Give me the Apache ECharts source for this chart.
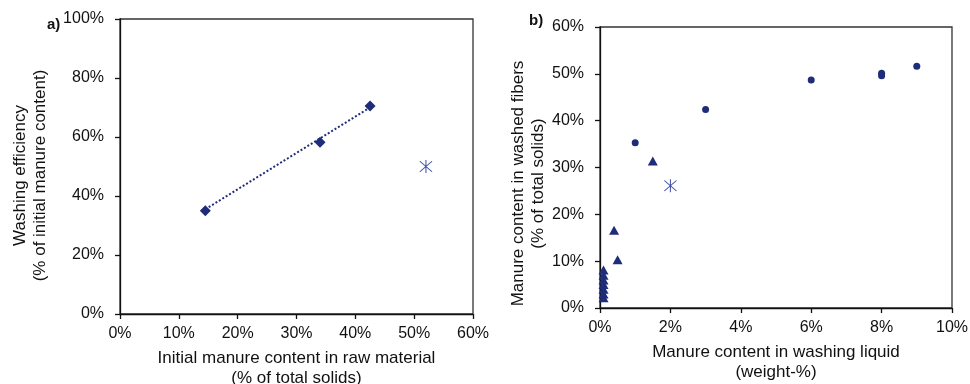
<!DOCTYPE html>
<html>
<head>
<meta charset="utf-8">
<script src="https://cdn.jsdelivr.net/npm/echarts@6/dist/echarts.min.js"></script>
<style>
  html, body { margin: 0; padding: 0; background: #fff; }
  #main { width: 970px; height: 384px; }
</style>
</head>
<body>
<div id="main"></div>
<script>
// panel a) initial manure content (x, %) vs washing efficiency (y, %)
const aDiamonds = [[14.5, 35], [34, 58.2], [42.5, 70.5]];
const aTrend = [[14.5, 35.5], [42.5, 70]];
const aStar = [[52, 50]];
const aXTicks = [0, 60, 10];
const aYTicks = [0, 100, 20];

// panel b) manure content in washing liquid (x, %) vs in washed fibers (y, %)
const bCircles = [[1, 35.3], [3, 42.4], [6, 48.7], [8, 49.6], [8, 50.1], [9, 51.6]];
const bTriangles = [[1.5, 31.4], [0.4, 16.6], [0.5, 10.3], [0.1, 8.1], [0.1, 7], [0.1, 6],
  [0.1, 5], [0.1, 4], [0.1, 3], [0.1, 2.2]];
const bStar = [[2, 26.1]];
const bXTicks = [0, 10, 2];
const bYTicks = [0, 60, 10];

const navy = '#1f2c78';
const starColor = '#3c4ea6';
const font = 'Liberation Sans, Arial, sans-serif';
const starPath = 'path://M9.3 0h1.4v20h-1.4Z M1 2.4L2.1 1.4L19 17.6L17.9 18.6Z M17.9 1.4L19 2.4L2.1 18.6L1 17.6Z';

let chartDom = document.getElementById('main');
let myChart = echarts.init(chartDom, null, { renderer: 'canvas' });

function valueAxis(ticks, gridIndex, name, gap, labelMargin, namePad) {
  return {
    type: 'value',
    gridIndex: gridIndex,
    min: ticks[0],
    max: ticks[1],
    interval: ticks[2],
    name: name,
    nameLocation: 'middle',
    nameGap: gap,
    nameTextStyle: { color: '#111', fontSize: 17, fontFamily: font, lineHeight: 20, padding: namePad || 0 },
    axisLine: { show: true, onZero: false, lineStyle: { color: '#111', width: 1.3 } },
    axisTick: { show: true, inside: false, length: 5, lineStyle: { color: '#111', width: 1.3 } },
    axisLabel: { color: '#111', fontSize: 16, fontFamily: font, margin: labelMargin, formatter: '{value}%' },
    splitLine: { show: false }
  };
}

let option = {
  backgroundColor: '#fff',
  animation: false,
  title: [
    { text: 'a)', left: 42, top: 12, textStyle: { fontSize: 15, fontWeight: 'bold', fontFamily: font, color: '#111' } },
    { text: 'b)', left: 524, top: 8, textStyle: { fontSize: 15, fontWeight: 'bold', fontFamily: font, color: '#111' } }
  ],
  grid: [
    { left: 120, right: 497, top: 19, bottom: 70, show: true, borderColor: '#333', borderWidth: 1.3,
      containLabel: false, outerBoundsMode: 'none' },
    { left: 600, right: 18, top: 27, bottom: 76, show: true, borderColor: '#333', borderWidth: 1.3,
      containLabel: false, outerBoundsMode: 'none' }
  ],
  xAxis: [
    valueAxis(aXTicks, 0, 'Initial manure content in raw material\n(% of total solids)', 34, 12),
    valueAxis(bXTicks, 1, 'Manure content in washing liquid\n(weight-%)', 34, 12)
  ],
  yAxis: [
    valueAxis(aYTicks, 0, 'Washing efficiency\n(% of initial manure content)', 70, 16, [0, 18, 0, 0]),
    valueAxis(bYTicks, 1, 'Manure content in washed fibers\n(% of total solids)', 51, 16, [0, 32, 0, 0])
  ],
  series: [
    {
      name: 'trend',
      type: 'line',
      xAxisIndex: 0, yAxisIndex: 0,
      data: aTrend,
      symbol: 'none',
      lineStyle: { color: navy, width: 2, type: 'dotted' },
      z: 2
    },
    {
      name: 'a diamonds',
      type: 'scatter',
      xAxisIndex: 0, yAxisIndex: 0,
      data: aDiamonds,
      symbol: 'diamond',
      symbolSize: [11, 11],
      itemStyle: { color: navy, opacity: 1 },
      z: 3
    },
    {
      name: 'a star',
      type: 'scatter',
      xAxisIndex: 0, yAxisIndex: 0,
      data: aStar,
      symbol: starPath,
      symbolSize: 13,
      itemStyle: { color: starColor, opacity: 1 }
    },
    {
      name: 'b circles',
      type: 'scatter',
      xAxisIndex: 1, yAxisIndex: 1,
      data: bCircles,
      symbol: 'circle',
      symbolSize: 7,
      itemStyle: { color: navy, opacity: 1 }
    },
    {
      name: 'b triangles',
      type: 'scatter',
      xAxisIndex: 1, yAxisIndex: 1,
      data: bTriangles,
      symbol: 'triangle',
      symbolSize: [10, 9],
      itemStyle: { color: navy, opacity: 1 }
    },
    {
      name: 'b star',
      type: 'scatter',
      xAxisIndex: 1, yAxisIndex: 1,
      data: bStar,
      symbol: starPath,
      symbolSize: 13,
      itemStyle: { color: starColor, opacity: 1 }
    }
  ]
};

option && myChart.setOption(option);
window.addEventListener('resize', () => {
  myChart.resize();
});
</script>
</body>
</html>
